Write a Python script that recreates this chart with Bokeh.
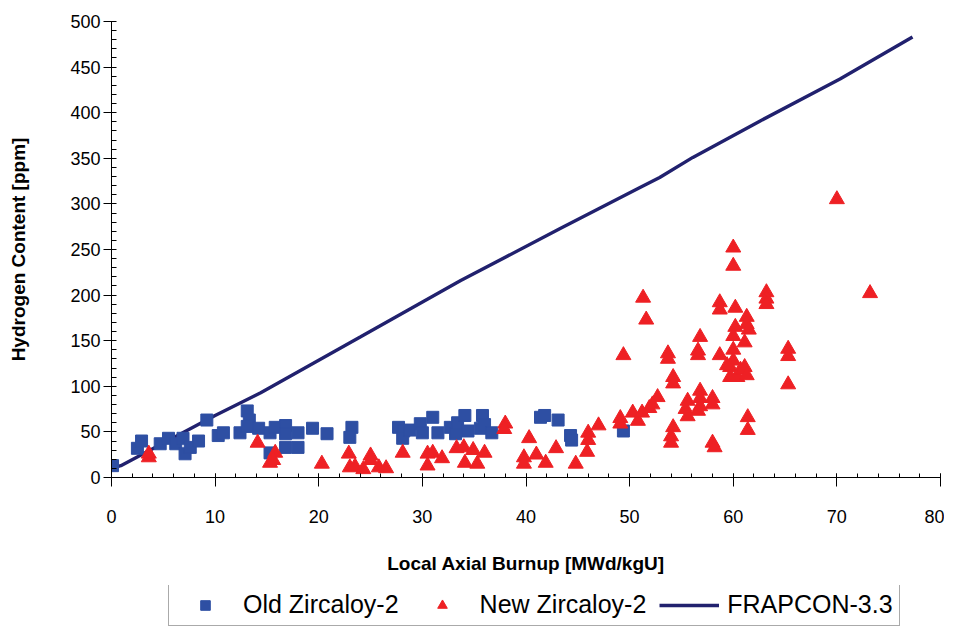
from bokeh.plotting import figure
from bokeh.models import FixedTicker, Legend, LegendItem, Range1d
from bokeh.layouts import column
from bokeh.embed import file_html
from bokeh.resources import INLINE

# ---- data ----
old_x = [0.1, 2.5, 2.9, 4.7, 5.5, 6.2, 6.9, 7.1, 7.6, 8.4, 9.2, 10.3, 10.8, 12.4, 13.1, 13.3, 13.1,
         14.2, 15.3, 15.8, 16.8, 16.8, 15.3, 16.8, 18.0, 18.0, 19.4, 20.8, 23.2, 23.0, 27.7, 28.2,
         28.1, 28.8, 29.8, 31.0, 30.0, 31.5, 32.7, 33.2, 33.4, 34.1, 34.4, 35.8, 35.6, 36.0, 36.7,
         41.4, 41.8, 43.1, 44.3, 44.4, 49.4]
old_y = [13, 32, 40, 37, 43, 37, 43, 26, 33, 40, 63, 46, 49, 49, 73, 63, 56,
         54, 49, 55, 57, 48, 27, 33, 49, 33, 54, 48, 55, 44, 55, 51,
         43, 52, 59, 66, 49, 49, 55, 48, 60, 68, 51, 68, 54, 58, 49,
         66, 68, 63, 46, 41, 51]

new_x = [3.6, 3.6, 14.1, 15.8, 15.6, 15.3, 20.3, 22.9, 23.0, 23.5, 24.3, 25.0, 25.0, 25.8, 26.5,
         28.1, 30.5, 30.5, 31.0, 31.9, 33.3, 34.0, 34.1, 34.9, 35.3, 36.0, 38.0, 37.9, 40.3, 39.8,
         39.8, 41.0, 41.9, 42.9, 44.8, 46.0, 46.0, 45.9, 47.0,
         49.1, 49.1, 49.4, 50.3, 50.8, 51.2, 51.9, 52.2, 52.7, 51.3, 51.6, 53.7, 53.7, 54.2, 54.2,
         54.2, 54.0, 54.0, 55.6, 55.4, 55.6, 56.8, 56.8, 56.8, 56.6, 56.8, 56.6, 56.6, 58.0, 58.0,
         58.0, 58.2, 58.7, 58.7, 58.7, 60.0, 60.0, 60.2, 60.2, 60.0, 60.0, 60.0, 59.7, 59.7, 60.4,
         59.4, 60.7, 61.1, 61.3, 61.3, 61.3, 61.5, 61.1, 61.4, 61.4, 63.2, 63.2, 63.2, 65.3, 65.3,
         65.3, 70.0, 73.2]
new_y = [22, 26, 38, 27, 19, 16, 15, 26, 11, 12, 9, 24, 19, 11, 10,
         27, 26, 13, 27, 21, 32, 33, 16, 30, 15, 27, 59, 53, 43, 22,
         15, 25, 16, 32, 15, 49, 41, 28, 57,
         65, 59, 134, 71, 62, 71, 76, 80, 88, 197, 173, 136, 130, 110, 103,
         55, 45, 38, 84, 75, 67, 95, 87, 78, 73, 154, 139, 134, 87, 80,
         38, 33, 192, 184, 134, 252, 232, 186, 165, 155, 140, 128, 121, 110, 110,
         123, 118, 121, 112, 176, 168, 162, 148, 66, 52, 203, 196, 190, 141, 133,
         102, 305, 202]

frap_x = [0, 0.9, 10, 14.4, 24, 33.7, 43.3, 51, 52.9, 56.1, 62.6, 70.3, 77.3]
frap_y = [10, 13, 68, 93, 154, 216, 273, 318, 329, 351, 391, 437, 483]

x_ticks = [0, 10, 20, 30, 40, 50, 60, 70, 80]
y_ticks = [0, 50, 100, 150, 200, 250, 300, 350, 400, 450, 500]

series_names = ["Old Zircaloy-2", "New Zircaloy-2", "FRAPCON-3.3"]

FONT = "Liberation Sans"
BLUE = "#2E4FA3"
RED = "#EE2024"
NAVY = "#21216E"

p = figure(width=944, height=585, output_backend="svg", toolbar_location=None,
           x_range=Range1d(0, 80), y_range=Range1d(0, 500),
           min_border_left=111, min_border_right=4, min_border_top=21, min_border_bottom=108)
p.outline_line_color = None
p.xgrid.grid_line_color = None
p.ygrid.grid_line_color = None

p.line(frap_x, frap_y, line_color=NAVY, line_width=3.4)
p.scatter(old_x, old_y, marker="square", size=12, fill_color=BLUE, line_color=BLUE)
p.scatter(new_x, new_y, marker="triangle", size=15, fill_color=RED, line_color=RED)

for ax in (p.xaxis[0], p.yaxis[0]):
    ax.axis_line_color = "black"
    ax.major_tick_line_color = "black"
    ax.minor_tick_line_color = "black"
    ax.major_label_text_font = FONT
    ax.major_label_text_font_size = "18px"
    ax.major_label_text_color = "black"
    ax.axis_label_text_font = FONT
    ax.axis_label_text_font_style = "bold"
    ax.axis_label_text_font_size = "19px"
    ax.axis_label_text_color = "black"

p.xaxis.ticker = FixedTicker(ticks=x_ticks, minor_ticks=list(range(0, 81, 2)))
p.yaxis.ticker = FixedTicker(ticks=y_ticks, minor_ticks=list(range(0, 501, 10)))
p.xaxis.major_tick_in = 4
p.xaxis.major_tick_out = 9
p.xaxis.minor_tick_in = 4
p.xaxis.minor_tick_out = 0
p.yaxis.major_tick_in = 3
p.yaxis.major_tick_out = 8
p.yaxis.minor_tick_in = 5
p.yaxis.minor_tick_out = 0
p.xaxis.major_label_standoff = 23
p.yaxis.major_label_standoff = 3
p.xaxis.axis_label = "Local Axial Burnup [MWd/kgU]"
p.yaxis.axis_label = "Hydrogen Content [ppm]"
p.xaxis.axis_label_standoff = 27
p.yaxis.axis_label_standoff = 38

# ---- legend strip (separate small figure below the chart; its series sit outside its view) ----
lg = figure(width=944, height=41, output_backend="svg", toolbar_location=None,
            x_range=Range1d(0, 80), y_range=Range1d(1000, 1001),
            x_axis_type=None, y_axis_type=None,
            min_border_left=0, min_border_right=0, min_border_top=0, min_border_bottom=0)
lg.outline_line_color = None
lg.xgrid.grid_line_color = None
lg.ygrid.grid_line_color = None
l_old = lg.scatter(old_x, old_y, marker="square", size=10, fill_color=BLUE, line_color=BLUE)
l_new = lg.scatter(new_x, new_y, marker="triangle", size=12, fill_color=RED, line_color=RED)
l_line = lg.line(frap_x, frap_y, line_color=NAVY, line_width=3.4)

legend = Legend(items=[LegendItem(label=series_names[0], renderers=[l_old]),
                       LegendItem(label=series_names[1], renderers=[l_new]),
                       LegendItem(label=series_names[2], renderers=[l_line])],
                orientation="horizontal", location=(57, 0))
legend.label_text_font = FONT
legend.label_text_font_size = "25px"
legend.label_text_color = "black"
legend.glyph_width = 60
legend.glyph_height = 24
legend.label_standoff = 8
legend.spacing = 13
legend.padding = 6
legend.margin = 0
legend.border_line_color = "#555555"
legend.border_line_width = 1
legend.background_fill_alpha = 1
lg.add_layout(legend, "center")

layout = column(p, lg, spacing=0)
open("out.html", "w").write(file_html(layout, INLINE))
